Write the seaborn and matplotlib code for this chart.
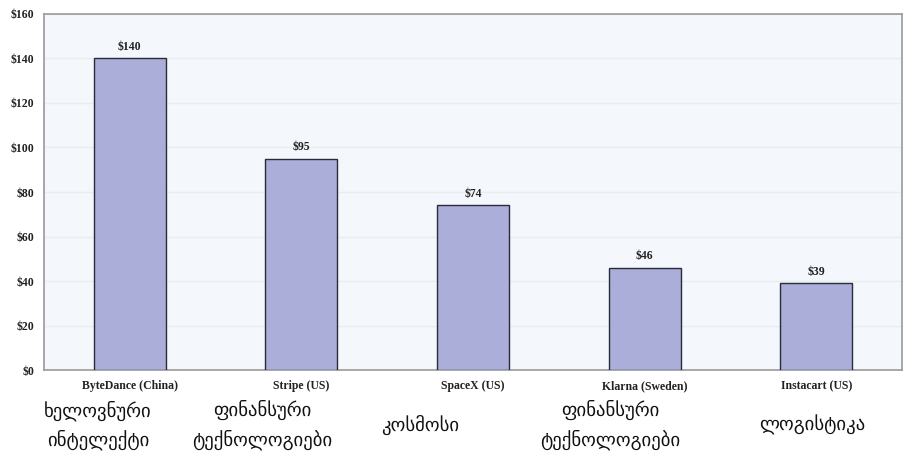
import matplotlib
matplotlib.use("Agg")
import matplotlib.pyplot as plt
import seaborn as sns
import pandas as pd

# dados
companies = ["ByteDance (China)", "Stripe (US)", "SpaceX (US)", "Klarna (Sweden)", "Instacart (US)"]
valuations = [140, 95, 74, 46, 39]
sectors = ["ხელოვნური\nინტელექტი", "ფინანსური\nტექნოლოგიები", "კოსმოსი",
           "ფინანსური\nტექნოლოგიები", "ლოგისტიკა"]
y_ticks = [0, 20, 40, 60, 80, 100, 120, 140, 160]

df = pd.DataFrame({"company": companies, "value": valuations})

sns.set_theme(style="white")
plt.rcParams["font.family"] = ["Liberation Serif", "DejaVu Serif"]

fig = plt.figure(figsize=(9.07, 4.61), dpi=100)
ax = fig.add_axes([0.0485, 0.197, 0.946, 0.773])
ax.set_facecolor("#f4f8fc")

sns.barplot(data=df, x="company", y="value", color="#aaaed8", width=0.42,
            edgecolor="#2a2a3a", linewidth=1.0, saturation=1, ax=ax, zorder=3)

ax.set_ylim(0, 160)
ax.set_yticks(y_ticks)
ax.set_yticklabels([f"${t}" for t in y_ticks], fontsize=8.5, fontweight="bold", color="#222222")
ax.set_xticks(range(len(companies)))
ax.set_xticklabels(companies, fontsize=8.5, fontweight="bold", color="#222222")
ax.tick_params(axis="both", length=3, color="#999999", pad=4)
ax.set_xlabel("")
ax.set_ylabel("")
ax.yaxis.grid(True, color="#e9ecf0", linewidth=1.0, zorder=0)

for s in ax.spines.values():
    s.set_color("#9a9a9a")
    s.set_linewidth(1.2)

# rótulos de valor
for i, v in enumerate(valuations):
    ax.text(i, v + 2.5, f"${v}", ha="center", va="bottom", fontsize=8.5,
            fontweight="bold", color="#222222")

# rótulos em georgiano
label_x = [98, 262, 420, 610, 812]
for lx, s in zip(label_x, sectors):
    fig.text(lx / 907, 1 - 425 / 461, s, ha="center", va="center", fontsize=13.5,
             family=["DejaVu Sans"], color="#111111", linespacing=1.55)

fig.savefig("out.png", dpi=100, facecolor="white")
